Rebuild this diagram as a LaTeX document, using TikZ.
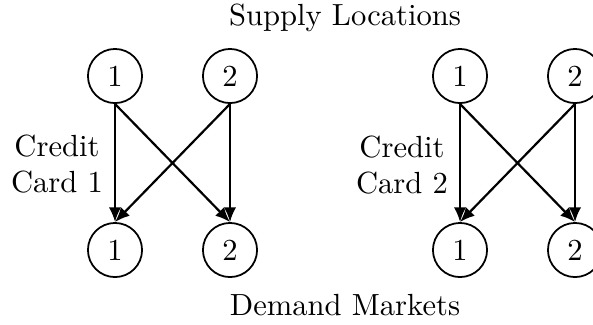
\documentclass[tikz,border=0pt]{standalone}
\usetikzlibrary{arrows.meta}
\begin{document}
\begin{tikzpicture}[x=0.34pt,y=-0.34pt,
  font=\fontsize{10.4}{12}\selectfont,
  loc/.style={circle,draw,line width=0.6pt,minimum size=18.4pt,inner sep=0pt},
  flow/.style={line width=0.75pt,-{Latex[length=5pt,width=4.2pt]}},
  lbl/.style={align=center,inner sep=0pt}]
\useasboundingbox (0,0) rectangle (593,324);
% left network
\node[loc] (a1) at (115,76) {1};
\node[loc] (a2) at (230,76) {2};
\node[loc] (b1) at (115,250) {1};
\node[loc] (b2) at (230,250) {2};
% right network
\node[loc] (c1) at (460,76) {1};
\node[loc] (c2) at (575,76) {2};
\node[loc] (d1) at (460,250) {1};
\node[loc] (d2) at (575,250) {2};
\draw[flow] (a1.south) -- (b1.north);
\draw[flow] (a1.south) -- (b2.north);
\draw[flow] (a2.south) -- (b1.north);
\draw[flow] (a2.south) -- (b2.north);
\draw[flow] (c1.south) -- (d1.north);
\draw[flow] (c1.south) -- (d2.north);
\draw[flow] (c2.south) -- (d1.north);
\draw[flow] (c2.south) -- (d2.north);
\node[lbl,anchor=base] (t) at (345,25) {Supply Locations};
\node[lbl,anchor=base] (m) at (345,315) {Demand Markets};
\node[lbl,anchor=base] (k1) at (57,192) {Credit\\Card 1};
\node[lbl,anchor=base] (k2) at (402,193) {Credit\\Card 2};
\end{tikzpicture}
\end{document}
